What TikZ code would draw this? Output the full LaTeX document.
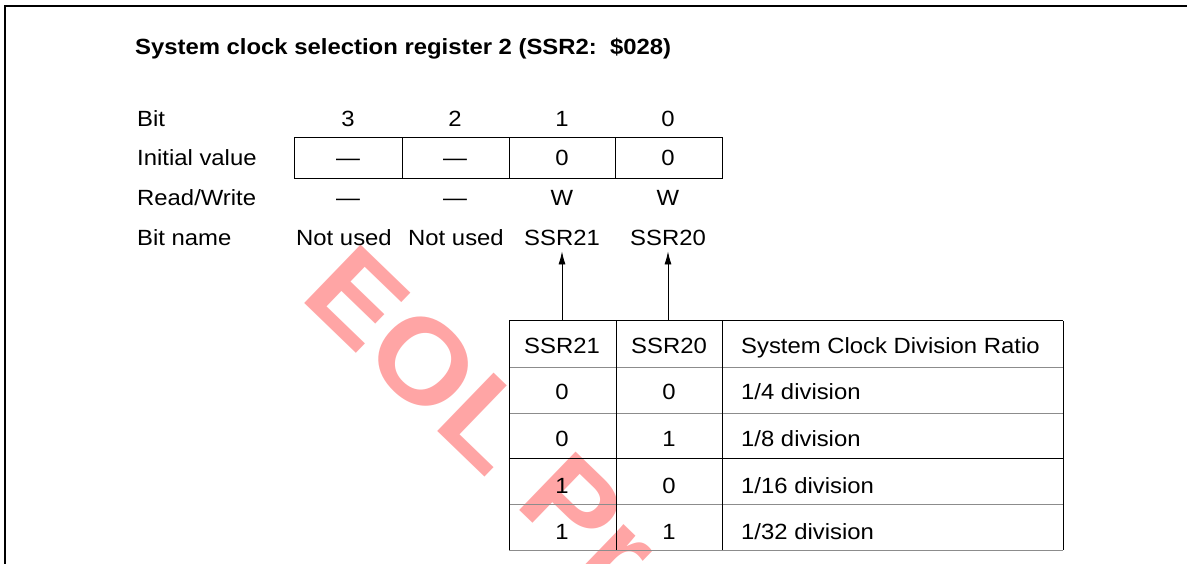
\documentclass[tikz,border=0pt]{standalone}
\usepackage{fontspec}
\setmainfont{Liberation Sans}[FakeStretch=1.085]
\usetikzlibrary{arrows.meta}
\begin{document}
\begin{tikzpicture}[x=1pt,y=-1pt,
  txt/.style={font=\fontsize{22}{26}\selectfont, inner sep=0pt},
  lbl/.style={txt, anchor=base west},
  ctr/.style={txt, anchor=base},
  ttl/.style={font=\fontsize{22}{26}\selectfont\bfseries, inner sep=0pt, anchor=base west},
  wm/.style={font=\fontsize{118}{130}\selectfont\bfseries, text={rgb,255:red,255;green,165;blue,165}, inner sep=0pt},
  frame/.style={line width=1.5pt},
  gridline/.style={line width=1pt},
  softline/.style={line width=1pt, draw=black!45},
  arr/.style={line width=0.8pt, -{Latex[length=13pt,width=7pt]}, shorten >=5pt}]
\useasboundingbox (0,0) rectangle (1187,564);
% watermark
\begin{scope}
  \clip (0,0) rectangle (1187,564);
  \node[wm, anchor=base west, rotate=-44] (wmark) at (298,297) {EOL Pro};
\end{scope}
% frame
\draw[frame] (5,564) -- (5,6) -- (1187,6);
% title
\node[ttl] (title) at (135,55) {System clock selection register 2 (SSR2:\ \ \$028)};
% row labels
\node[lbl] (lbit)  at (137,127) {Bit};
\node[lbl] (linit) at (137,166) {Initial value};
\node[lbl] (lrw)   at (137,206) {Read/Write};
\node[lbl] (lname) at (137,246) {Bit name};
% register box
\draw[gridline] (294,138) rectangle (722,179);
\foreach \x in {402,509,615} \draw[gridline] (\x,138) -- (\x,179);
% bit numbers
\node[ctr] (b3) at (348,127) {3};
\node[ctr] (b2) at (455,127) {2};
\node[ctr] (b1) at (562,127) {1};
\node[ctr] (b0) at (668,127) {0};
% initial values
\node[ctr] (i3) at (348,166) {—};
\node[ctr] (i2) at (455,166) {—};
\node[ctr] (i1) at (562,166) {0};
\node[ctr] (i0) at (668,166) {0};
% read/write
\node[ctr] (r3) at (348,206) {—};
\node[ctr] (r2) at (455,206) {—};
\node[ctr] (r1) at (562,206) {W};
\node[ctr] (r0) at (668,206) {W};
% bit names
\node[ctr] (n3) at (344,246) {Not used};
\node[ctr] (n2) at (456,246) {Not used};
\node[ctr] (n1) at (562,246) {SSR21};
\node[ctr] (n0) at (668,246) {SSR20};
% lower table grid
\draw[softline] (509,367) -- (1063,367);
\draw[softline] (509,413) -- (1063,413);
\draw[softline] (509,504) -- (1063,504);
\draw[softline] (509,550) -- (1063,550);
\draw[gridline] (509,458) -- (1063,458);
\draw[gridline] (509,321) -- (1063,321);
\draw[gridline] (509,321) -- (509,550);
\draw[gridline] (1063,321) -- (1063,550);
\draw[gridline] (616,321) -- (616,550);
\draw[gridline] (722,321) -- (722,550);
% header
\node[ctr] (h1) at (562,353) {SSR21};
\node[ctr] (h0) at (669,353) {SSR20};
\node[lbl] (hr) at (741,353) {System Clock Division Ratio};
% rows
\node[ctr] (a1) at (562,399) {0};
\node[ctr] (a0) at (669,399) {0};
\node[lbl] (ar) at (741,399) {1/4 division};
\node[ctr] (c1) at (562,446) {0};
\node[ctr] (c0) at (669,446) {1};
\node[lbl] (cr) at (741,446) {1/8 division};
\node[ctr] (d1) at (562,493) {1};
\node[ctr] (d0) at (669,493) {0};
\node[lbl] (dr) at (741,493) {1/16 division};
\node[ctr] (e1) at (562,539) {1};
\node[ctr] (e0) at (669,539) {1};
\node[lbl] (er) at (741,539) {1/32 division};
% arrows
\coordinate (t1) at (562,321);
\coordinate (t0) at (668,321);
\draw[arr] (t1) -- (t1 |- n1.south);
\draw[arr] (t0) -- (t0 |- n0.south);
\end{tikzpicture}
\end{document}
